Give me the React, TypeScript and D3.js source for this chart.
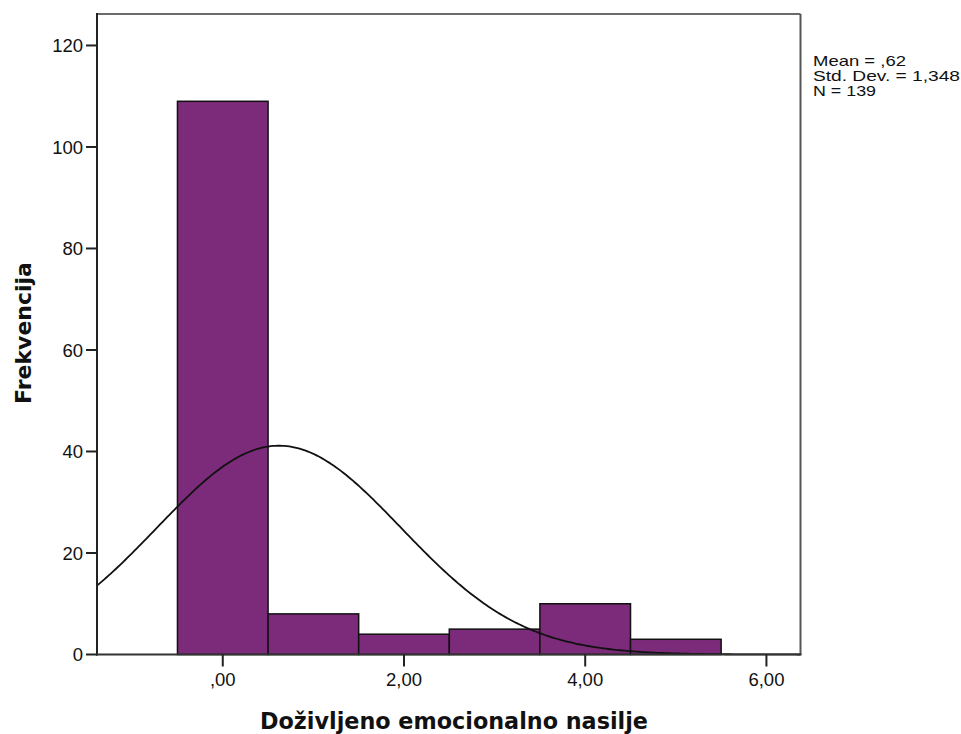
import React from "react";
import * as d3 from "d3";

const binStarts = [-0.5, 0.5, 1.5, 2.5, 3.5, 4.5];
const binWidth = 1;
const counts = [109, 8, 4, 5, 10, 3];
const yTicks = [0, 20, 40, 60, 80, 100, 120];
const xTicks = [0, 2, 4, 6];
const statsLines = ["Mean = ,62", "Std. Dev. = 1,348", "N = 139"];
const statsWidths = [93, 147, 63];
const mean = 0.62;
const sd = 1.348;
const n = 139;

const W = 961;
const H = 734;
const left = 97;
const right = 800.5;
const top = 14;
const bottom = 654.5;

const fmtX = (v: number) => {
  const s = v.toFixed(2).replace(".", ",");
  return s.startsWith("0,") ? s.slice(1) : s;
};

export default function App() {
  const x = d3.scaleLinear().domain([-1.388, 6.376]).range([left, right]);
  const y = d3.scaleLinear().domain([0, 126.2]).range([bottom, top]);

  const curvePts: [number, number][] = [];
  const [x0, x1] = x.domain();
  for (let i = 0; i <= 300; i++) {
    const v = x0 + ((x1 - x0) * i) / 300;
    const dens =
      (n * binWidth) / (sd * Math.sqrt(2 * Math.PI)) *
      Math.exp(-0.5 * ((v - mean) / sd) ** 2);
    curvePts.push([v, dens]);
  }
  const line = d3
    .line<[number, number]>()
    .x((d) => x(d[0]))
    .y((d) => y(d[1]))
    .curve(d3.curveLinear);

  const font = "Arial, 'Liberation Sans', sans-serif";
  const boldFont = "'DejaVu Sans', Verdana, sans-serif";
  const tickLen = 11;

  return (
    <svg
      width={W}
      height={H}
      style={{ position: "absolute", left: 0, top: 0, background: "#fff" }}
      fontFamily={font}
    >
      <rect x={0} y={0} width={W} height={H} fill="#fff" />
      {binStarts.map((b, i) => (
        <rect
          key={i}
          x={x(b)}
          y={y(counts[i])}
          width={x(b + binWidth) - x(b)}
          height={y(0) - y(counts[i])}
          fill="#7c2a7a"
          stroke="#111"
          strokeWidth={1.5}
        />
      ))}
      <path d={line(curvePts) || ""} fill="none" stroke="#111" strokeWidth={1.8} />
      {/* frame */}
      <line x1={left} y1={top} x2={right} y2={top} stroke="#6a6a6a" strokeWidth={2} />
      <line x1={right} y1={top} x2={right} y2={bottom} stroke="#555" strokeWidth={2} />
      <line x1={left} y1={top - 1} x2={left} y2={bottom + 1} stroke="#222" strokeWidth={2} />
      <line x1={left - 1} y1={bottom} x2={right + 1} y2={bottom} stroke="#333" strokeWidth={2} />
      {/* y ticks */}
      {yTicks.map((t) => (
        <g key={t}>
          <line x1={left - tickLen} x2={left} y1={y(t)} y2={y(t)} stroke="#222" strokeWidth={2} />
          <text x={left - tickLen - 3} y={y(t)} dy="0.36em" textAnchor="end" fontSize={18.5} fill="#111">
            {t}
          </text>
        </g>
      ))}
      {/* x ticks */}
      {xTicks.map((t) => (
        <g key={t}>
          <line x1={x(t)} x2={x(t)} y1={bottom} y2={bottom + tickLen + 1} stroke="#222" strokeWidth={2} />
          <text x={x(t)} y={686} textAnchor="middle" fontSize={18.5} fill="#111">
            {fmtX(t)}
          </text>
        </g>
      ))}
      <text x={454} y={729} textAnchor="middle" fontSize={22.3} fontWeight="bold" fill="#111" fontFamily={boldFont}>
        Doživljeno emocionalno nasilje
      </text>
      <text
        transform={`translate(31, 333) rotate(-90)`}
        textAnchor="middle"
        fontSize={22}
        fontWeight="bold"
        fill="#111"
        fontFamily={boldFont}
      >
        Frekvencija
      </text>
      {statsLines.map((s, i) => (
        <text
          key={i}
          x={813}
          y={66 + i * 15}
          fontSize={14.5}
          fill="#111"
          textLength={statsWidths[i]}
          lengthAdjust="spacingAndGlyphs"
        >
          {s}
        </text>
      ))}
    </svg>
  );
}
